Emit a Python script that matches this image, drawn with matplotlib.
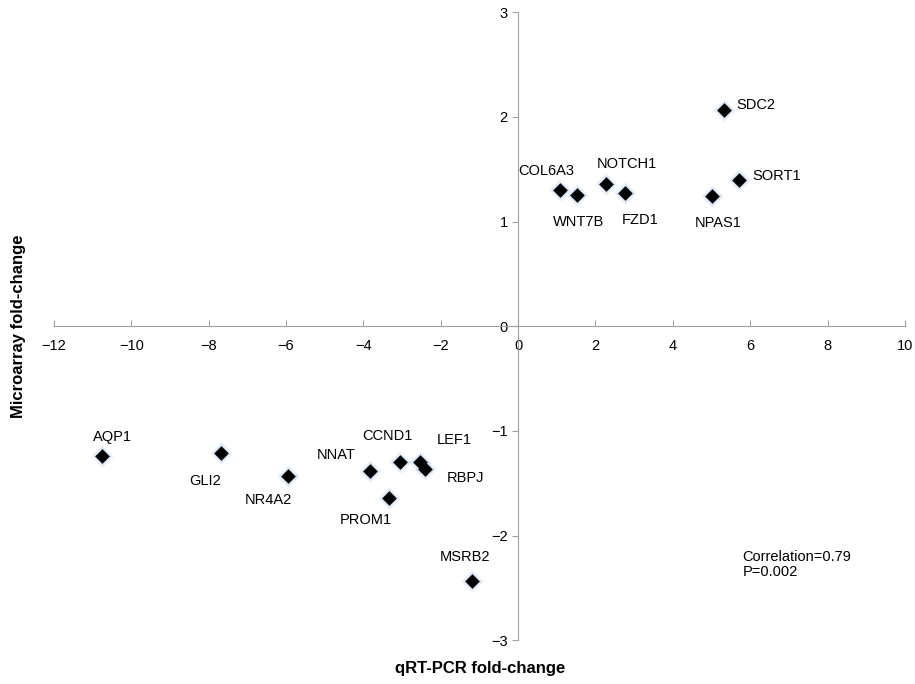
import matplotlib.pyplot as plt

plt.rcParams['font.family'] = ['Liberation Sans', 'DejaVu Sans']

genes = ['SDC2', 'SORT1', 'NPAS1', 'FZD1', 'NOTCH1', 'WNT7B', 'COL6A3',
         'AQP1', 'GLI2', 'NR4A2', 'NNAT', 'CCND1', 'LEF1', 'RBPJ', 'PROM1', 'MSRB2']
qpcr = [5.31, 5.72, 5.0, 2.75, 2.28, 1.53, 1.09,
        -10.75, -7.67, -5.96, -3.83, -3.06, -2.54, -2.41, -3.34, -1.19]
micro = [2.07, 1.40, 1.24, 1.27, 1.36, 1.25, 1.30,
         -1.24, -1.21, -1.43, -1.38, -1.30, -1.30, -1.36, -1.64, -2.43]

# label offsets in points and alignment
offsets = {
    'SDC2': (9, 3, 'left'), 'SORT1': (9, 3, 'left'), 'NPAS1': (5, -19, 'center'),
    'FZD1': (11, -19, 'center'), 'NOTCH1': (15, 14, 'center'),
    'WNT7B': (1, -19, 'center'), 'COL6A3': (-10, 14, 'center'),
    'AQP1': (7, 14, 'center'), 'GLI2': (-12, -20, 'center'),
    'NR4A2': (-14, -17, 'center'), 'NNAT': (-24, 11, 'center'),
    'CCND1': (-9, 19, 'center'), 'LEF1': (25, 16, 'center'),
    'RBPJ': (29, -7, 'center'), 'PROM1': (-17, -16, 'center'),
    'MSRB2': (-5, 17, 'center'),
}

fig = plt.figure(figsize=(9.15, 6.84), dpi=100)
ax = fig.add_axes([0.059, 0.064, 0.930, 0.918])

ax.scatter(qpcr, micro, marker='D', s=130, color='#a8c8ec', alpha=0.25, linewidths=0, zorder=2)
ax.scatter(qpcr, micro, marker='D', s=85, color='#a8c8ec', alpha=0.35, linewidths=0, zorder=2)
ax.scatter(qpcr, micro, marker='D', s=55, color='black', linewidths=0, zorder=3)

for g, xv, yv in zip(genes, qpcr, micro):
    dx, dy, ha = offsets[g]
    ax.annotate(g, (xv, yv), xytext=(dx, dy), textcoords='offset points',
                ha=ha, va='center', fontsize=10.5)

ax.set_xlim(-12, 10)
ax.set_ylim(-3, 3)
ax.set_xticks(range(-12, 11, 2))
ax.set_yticks(range(-3, 4))
ax.set_xticklabels(['\u2212' + str(-t) if t < 0 else str(t) for t in range(-12, 11, 2)])
ax.set_yticklabels(['\u2212' + str(-t) if t < 0 else str(t) for t in range(-3, 4)])

for s in ['top', 'right']:
    ax.spines[s].set_visible(False)
for s in ['left', 'bottom']:
    ax.spines[s].set_position(('data', 0))
    ax.spines[s].set_color('#a0a0a0')
ax.tick_params(axis='both', colors='#a0a0a0', labelcolor='black', labelsize=10.5, length=4)
ax.tick_params(axis='x', direction='in', pad=9)

ax.text(5.8, -2.14, 'Correlation=0.79\nP=0.002', fontsize=10.5, ha='left', va='top', linespacing=1.1)

fig.text(0.020, 0.523, 'Microarray fold-change', rotation=90, ha='center', va='center',
         fontsize=12, fontweight='bold')
fig.text(0.525, 0.022, 'qRT-PCR fold-change', ha='center', va='center',
         fontsize=12, fontweight='bold')

fig.savefig('out.png', dpi=100)
